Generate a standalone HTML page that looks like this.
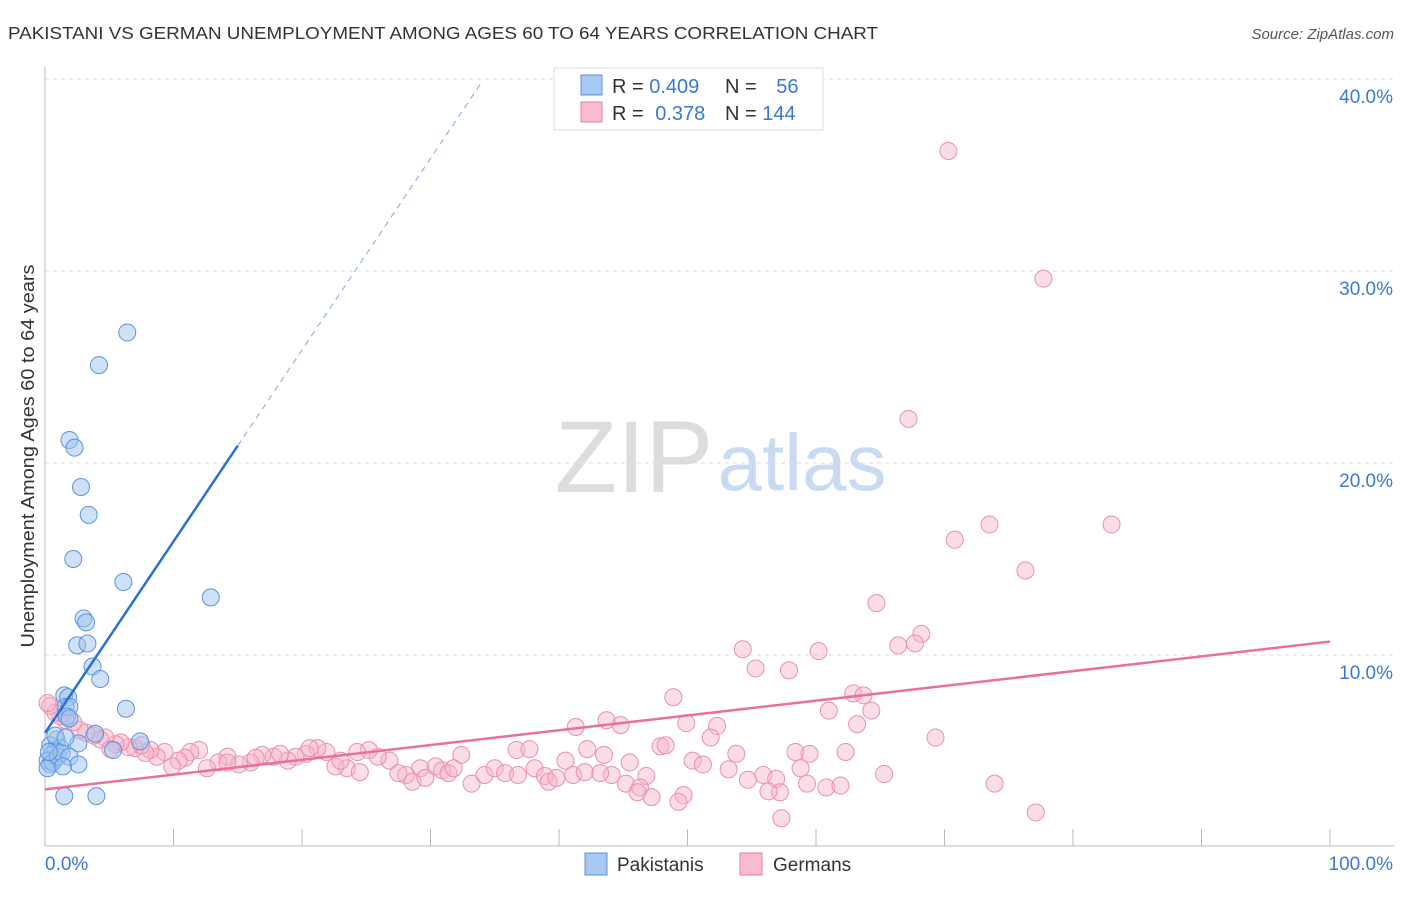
<!DOCTYPE html>
<html><head><meta charset="utf-8"><style>
body{margin:0;background:#fff;font-family:"Liberation Sans",sans-serif;}
svg text{font-family:"Liberation Sans",sans-serif;}
</style></head><body>
<svg id="c" width="1406" height="892">
<text x="8" y="39" font-size="17.5" fill="#333" textLength="870" lengthAdjust="spacingAndGlyphs">PAKISTANI VS GERMAN UNEMPLOYMENT AMONG AGES 60 TO 64 YEARS CORRELATION CHART</text>
<text x="1394" y="39" font-size="15" fill="#555" font-style="italic" text-anchor="end">Source: ZipAtlas.com</text>
<g>
<text x="634" y="492" font-size="102" fill="#ddd" font-family="Liberation Serif,serif" text-anchor="middle">ZIP</text>
<text x="802" y="490" font-size="80" fill="#c9dbf2" text-anchor="middle">atlas</text>
</g>
<g id="grid"></g><g id="axes"></g><g id="pts"></g><g id="lines"></g>
<text transform="translate(34,456) rotate(-90)" font-size="18" fill="#333" text-anchor="middle" textLength="383" lengthAdjust="spacingAndGlyphs">Unemployment Among Ages 60 to 64 years</text>
<g>
<rect x="554" y="68" width="269" height="62" fill="#fff" stroke="#ddd"/>
<rect x="581" y="75" width="21" height="20" fill="#a9c9f0" stroke="#5b94dd"/>
<rect x="581" y="102" width="21" height="20" fill="#f7bccd" stroke="#e67ea0"/>
<text x="612" y="93" font-size="20" fill="#333">R = <tspan fill="#3a78d4">0.409</tspan></text>
<text x="725" y="93" font-size="20" fill="#333">N = <tspan fill="#3a78d4" dx="14">56</tspan></text>
<text x="612" y="120" font-size="20" fill="#333">R = <tspan fill="#3a78d4" dx="6">0.378</tspan></text>
<text x="725" y="120" font-size="20" fill="#333">N = <tspan fill="#3a78d4">144</tspan></text>
</g>
<g>
<rect x="585" y="853" width="22" height="22" fill="#a9c9f0" stroke="#5b94dd"/>
<text x="617" y="871" font-size="19" fill="#333">Pakistanis</text>
<rect x="740" y="853" width="22" height="22" fill="#f7bccd" stroke="#e67ea0"/>
<text x="773" y="871" font-size="19" fill="#333">Germans</text>
</g>
</svg>
<script>
const yTicks=[10,20,30,40];
const yTickLabels=["10.0%","20.0%","30.0%","40.0%"];
const xTickCount=10;
const blueX=[6.4,4.2,1.9,2.3,2.8,3.4,2.2,6.1,12.9,3.0,3.2,2.5,3.3,3.7,4.3,1.5,1.8,1.6,1.9,6.3,1.7,1.9,3.9,7.4,0.9,2.6,5.3,0.4,0.8,1.2,0.5,0.2,0.4,0.6,0.2,1.0,1.3,1.9,2.6,1.4,1.5,4.0,0.8,0.3,1.6];
const blueY=[26.8,25.1,21.2,20.8,18.75,17.3,15.0,13.8,13.0,11.9,11.7,10.5,10.6,9.4,8.75,7.9,7.8,7.3,7.3,7.2,6.8,6.7,5.9,5.5,5.6,5.4,5.05,5.3,5.05,5.15,4.8,4.5,4.3,4.4,4.1,4.7,4.9,4.7,4.3,4.2,2.65,2.65,5.8,4.95,5.7];
const pinkX=[70.3,77.7,67.2,73.5,83.0,70.8,76.3,64.7,68.2,66.4,67.7,54.3,60.2,55.3,57.9,48.9,62.9,63.7,61.0,64.3,63.2,43.7,44.8,49.9,52.3,51.8,41.3,69.3,47.9,48.3,36.7,37.7,32.4,42.2,43.5,53.8,58.4,59.5,62.3,50.4,51.2,45.5,40.5,44.1,46.8,45.2,46.3,49.7,47.2,49.3,43.2,53.2,54.7,55.9,56.9,58.8,57.2,59.3,60.8,61.9,56.3,65.3,73.9,77.1,57.3,33.2,34.2,35.0,35.8,36.8,38.1,38.9,39.2,39.8,41.1,30.4,30.9,31.4,29.2,28.1,27.5,28.6,26.8,25.9,25.2,24.3,23.5,22.6,21.9,21.2,20.3,19.5,18.9,17.8,16.9,16.0,15.1,14.2,13.5,12.6,12.0,11.3,10.9,10.4,9.9,9.3,8.7,8.2,7.8,7.0,6.5,5.9,5.5,4.7,4.3,3.8,3.2,2.7,2.2,1.6,1.2,0.8,0.4,0.2,5.1,7.5,14.2,16.4,18.3,20.6,23.0,24.5,31.8,29.6,42.0,46.1];
const pinkY=[36.25,29.6,22.3,16.8,16.8,16.0,14.4,12.7,11.1,10.5,10.6,10.3,10.2,9.3,9.2,7.8,8.0,7.9,7.1,7.1,6.4,6.6,6.35,6.45,6.3,5.7,6.25,5.7,5.25,5.3,5.05,5.1,4.8,5.1,4.8,4.85,4.95,4.85,4.95,4.5,4.3,4.4,4.5,3.75,3.7,3.3,3.1,2.7,2.6,2.35,3.85,4.05,3.5,3.75,3.55,4.1,2.85,3.3,3.1,3.2,2.9,3.8,3.3,1.8,1.5,3.3,3.75,4.1,3.85,3.75,4.1,3.7,3.4,3.6,3.75,4.2,4.0,3.85,4.1,3.75,3.85,3.4,4.5,4.7,5.05,4.95,4.1,4.2,4.95,5.15,4.85,4.7,4.5,4.7,4.8,4.4,4.3,4.7,4.4,4.1,5.05,4.95,4.65,4.5,4.2,4.95,4.7,5.05,4.9,5.15,5.2,5.45,5.35,5.7,5.6,5.8,5.95,6.1,6.5,6.6,6.8,7.0,7.35,7.5,5.1,5.3,4.4,4.65,4.85,5.15,4.5,3.9,4.1,3.6,3.9,2.85];
const blueTrend=[0,5.94,15.0,20.9,34.0];
const pinkTrend=[0,3.0,100,10.7];
const NS="http://www.w3.org/2000/svg";
const X0=45,X1=1330,YB=847,PY=19.2;
const sx=v=>X0+(X1-X0)*v/100, sy=v=>YB-v*PY;
function mk(tag,attrs,parent){const e=document.createElementNS(NS,tag);for(const k in attrs)e.setAttribute(k,attrs[k]);document.getElementById(parent).appendChild(e);return e;}
yTicks.forEach((t,i)=>{
 const l=mk('line',{x1:X0,x2:1394,y1:sy(t),y2:sy(t),stroke:'#ddd','stroke-dasharray':'4,4'},'grid');
 
 
 const tx=mk('text',{x:1393,y:sy(t)+24,'font-size':19,fill:'#3a78d4','text-anchor':'end'},'grid');
 tx.textContent=yTickLabels[i];
 
 
});
const ax=mk('line',{x1:X0,x2:X0,y1:67,y2:846,stroke:'#bbb'},'axes');


const bx=mk('line',{x1:X0,x2:1394,y1:846,y2:846,stroke:'#bbb'},'axes');


for(let i=0;i<=xTickCount;i++){
 const tk=mk('line',{x1:sx(i*10),x2:sx(i*10),y1:829,y2:846,stroke:'#bbb'},'axes');
 
 
}
const xl=mk('text',{x:45,y:870,'font-size':19,fill:'#3a78d4'},'axes');xl.textContent='0.0%';


const xr=mk('text',{x:1393,y:870,'font-size':19,fill:'#3a78d4','text-anchor':'end'},'axes');xr.textContent='100.0%';


pinkX.forEach((v,i)=>{
 const c=mk('circle',{cx:sx(v),cy:sy(pinkY[i]),r:8.5,fill:'rgba(247,180,202,0.45)',stroke:'#e991ad','stroke-width':1},'pts');
 
 
});
blueX.forEach((v,i)=>{
 const c=mk('circle',{cx:sx(v),cy:sy(blueY[i]),r:8.5,fill:'rgba(160,196,240,0.5)',stroke:'#5b94dd','stroke-width':1},'pts');
 
 
});
const bs=(blueTrend[3]-blueTrend[1])/(blueTrend[2]-blueTrend[0]);
const bl=mk('line',{x1:sx(blueTrend[0]),y1:sy(blueTrend[1]),x2:sx(blueTrend[2]),y2:sy(blueTrend[3]),stroke:'#2a6fd6','stroke-width':2.5},'lines');


const bd=mk('line',{x1:sx(blueTrend[2]),y1:sy(blueTrend[3]),x2:sx(blueTrend[4]),y2:sy(blueTrend[1]+bs*blueTrend[4]),stroke:'#8fb4e6','stroke-width':1.2,'stroke-dasharray':'6,5'},'lines');


const pl=mk('line',{x1:sx(pinkTrend[0]),y1:sy(pinkTrend[1]),x2:sx(pinkTrend[2]),y2:sy(pinkTrend[3]),stroke:'#e8709a','stroke-width':2.5},'lines');


</script>
</body></html>
